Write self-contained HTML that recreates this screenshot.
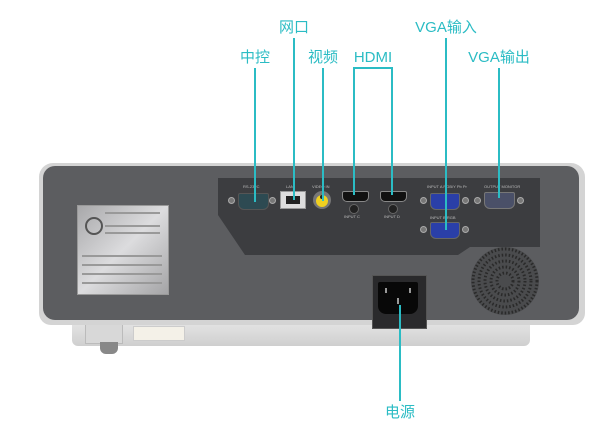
<!DOCTYPE html>
<html><head><meta charset="utf-8"><style>
html,body{margin:0;padding:0;background:#fff;width:600px;height:433px;overflow:hidden;position:relative;font-family:"Liberation Sans","Noto Sans CJK SC",sans-serif}
.a{position:absolute}
.lbl{position:absolute;color:#2bbcc4;font-size:15px;font-weight:normal;transform:translateX(-50%);white-space:nowrap;line-height:14px}
.v{position:absolute;width:1.5px;background:#2bbcc4}
.h{position:absolute;height:1.5px;background:#2bbcc4}
.t{position:absolute;font-size:4px;color:#bbb;white-space:nowrap}
.scr{position:absolute;width:7px;height:7px;border-radius:50%;background:#777;border:1px solid #aaa;box-sizing:border-box}
.sl{position:absolute;height:2px;background:#999}
</style></head><body>
<!-- body -->
<div class="a" style="left:72px;top:318px;width:458px;height:28px;background:linear-gradient(#e8e8e8,#cfcfcf);border-radius:0 0 6px 6px"></div>
<div class="a" style="left:85px;top:320px;width:36px;height:22px;background:#d8d8d8;border:1px solid #bbb"></div>
<div class="a" style="left:100px;top:342px;width:18px;height:12px;background:#888;border-radius:0 0 6px 6px"></div>
<div class="a" style="left:133px;top:326px;width:50px;height:13px;background:#f4f1e8;border:1px solid #ccc"></div>
<div class="a" style="left:39px;top:163px;width:546px;height:162px;background:#d4d4d4;border-radius:14px 14px 12px 12px"></div>
<div class="a" style="left:43px;top:166px;width:536px;height:154px;background:#5c5d60;border-radius:12px"></div>
<!-- panel -->
<svg class="a" style="left:0;top:0" width="600" height="433">
<path d="M218 178 L540 178 L540 247 L470 247 L458 255 L245 255 L218 215 Z" fill="#3c3d40"/>
<circle cx="505" cy="281" r="34" fill="#4a4b4d"/>
<g>
<circle cx="505" cy="281" r="32" fill="none" stroke="#2a2a2a" stroke-width="3" stroke-dasharray="1.5 2"/>
<circle cx="505" cy="281" r="26" fill="none" stroke="#2a2a2a" stroke-width="3" stroke-dasharray="1.5 2"/>
<circle cx="505" cy="281" r="20" fill="none" stroke="#2a2a2a" stroke-width="3" stroke-dasharray="1.5 2"/>
<circle cx="505" cy="281" r="14" fill="none" stroke="#2a2a2a" stroke-width="3" stroke-dasharray="1.5 2"/>
<circle cx="505" cy="281" r="8" fill="none" stroke="#2a2a2a" stroke-width="3" stroke-dasharray="1.5 2"/>
</g>
</svg>
<!-- sticker -->
<div class="a" style="left:77px;top:205px;width:90px;height:88px;background:linear-gradient(135deg,#a8a8aa,#dcdcde 50%,#a4a4a6);border:1px solid #999"></div>
<div class="a" style="left:85px;top:217px;width:14px;height:14px;border:2px solid #555;border-radius:50%"></div>
<div class="sl" style="left:105px;top:212px;width:55px"></div>
<div class="sl" style="left:105px;top:225px;width:55px"></div>
<div class="sl" style="left:105px;top:232px;width:55px"></div>
<div class="sl" style="left:82px;top:255px;width:80px"></div>
<div class="sl" style="left:82px;top:264px;width:80px"></div>
<div class="sl" style="left:82px;top:273px;width:80px"></div>
<div class="sl" style="left:82px;top:282px;width:80px"></div>
<!-- connectors -->
<div class="t" style="left:243px;top:184px">RS-232C</div>
<div class="t" style="left:286px;top:184px">LAN</div>
<div class="t" style="left:312px;top:184px">VIDEO IN</div>
<div class="t" style="left:427px;top:184px">INPUT A RGB/Y Pb Pr</div>
<div class="t" style="left:484px;top:184px">OUTPUT MONITOR</div>
<div class="t" style="left:344px;top:214px">INPUT C</div>
<div class="t" style="left:384px;top:214px">INPUT D</div>
<div class="t" style="left:430px;top:215px">INPUT B RGB</div>
<div class="scr" style="left:228px;top:197px"></div><div class="scr" style="left:269px;top:197px"></div>
<div class="a" style="left:238px;top:193px;width:29px;height:15px;background:#2d4a52;border-radius:2px 2px 6px 6px;border:1px solid #555"></div>
<div class="a" style="left:280px;top:191px;width:24px;height:16px;background:#ddd;border:1px solid #999"><div style="margin:4px 5px;width:14px;height:8px;background:#222"></div></div>
<div class="a" style="left:313px;top:191px;width:18px;height:18px;border-radius:50%;background:#777"><div style="margin:3px;width:12px;height:12px;border-radius:50%;background:#f0d020"><div style="margin:4px;width:4px;height:4px;border-radius:50%;background:#222"></div></div></div>
<div class="a" style="left:342px;top:191px;width:25px;height:9px;background:#111;border:1px solid #888;border-radius:2px 2px 5px 5px"></div>
<div class="a" style="left:349px;top:204px;width:8px;height:8px;border-radius:50%;background:#222;border:1px solid #666"></div>
<div class="a" style="left:380px;top:191px;width:25px;height:9px;background:#111;border:1px solid #888;border-radius:2px 2px 5px 5px"></div>
<div class="a" style="left:388px;top:204px;width:8px;height:8px;border-radius:50%;background:#222;border:1px solid #666"></div>
<div class="scr" style="left:420px;top:197px"></div><div class="scr" style="left:462px;top:197px"></div>
<div class="a" style="left:430px;top:193px;width:28px;height:15px;background:#2a3fa8;border:1px solid #666;border-radius:2px 2px 6px 6px"></div>
<div class="scr" style="left:420px;top:226px"></div><div class="scr" style="left:462px;top:226px"></div>
<div class="a" style="left:430px;top:222px;width:28px;height:15px;background:#2a3fa8;border:1px solid #666;border-radius:2px 2px 6px 6px"></div>
<div class="scr" style="left:474px;top:197px"></div><div class="scr" style="left:517px;top:197px"></div>
<div class="a" style="left:484px;top:192px;width:29px;height:15px;background:#4a5068;border:1px solid #777;border-radius:2px 2px 6px 6px"></div>
<!-- power -->
<div class="a" style="left:372px;top:275px;width:53px;height:52px;background:#2a2a2c;border:1px solid #555"></div>
<div class="a" style="left:378px;top:282px;width:40px;height:32px;background:#080808;border-radius:2px 2px 8px 8px"></div>
<div class="a" style="left:385px;top:288px;width:2px;height:5px;background:#999"></div>
<div class="a" style="left:409px;top:288px;width:2px;height:5px;background:#999"></div>
<div class="a" style="left:397px;top:298px;width:2px;height:6px;background:#999"></div>
<!-- labels -->
<div class="lbl" style="left:255px;top:51px">中控</div>
<div class="v" style="left:254px;top:68px;height:134px"></div>
<div class="lbl" style="left:294px;top:21px">网口</div>
<div class="v" style="left:293px;top:38px;height:162px"></div>
<div class="lbl" style="left:323px;top:51px">视频</div>
<div class="v" style="left:322px;top:68px;height:133px"></div>
<div class="lbl" style="left:373px;top:51px">HDMI</div>
<div class="h" style="left:353px;top:67px;width:40px"></div>
<div class="v" style="left:353px;top:67px;height:128px"></div>
<div class="v" style="left:391px;top:67px;height:128px"></div>
<div class="lbl" style="left:446px;top:21px">VGA输入</div>
<div class="v" style="left:445px;top:38px;height:192px"></div>
<div class="lbl" style="left:499px;top:51px">VGA输出</div>
<div class="v" style="left:498px;top:68px;height:130px"></div>
<div class="v" style="left:399px;top:305px;height:96px"></div>
<div class="lbl" style="left:400px;top:406px">电源</div>
</body></html>
